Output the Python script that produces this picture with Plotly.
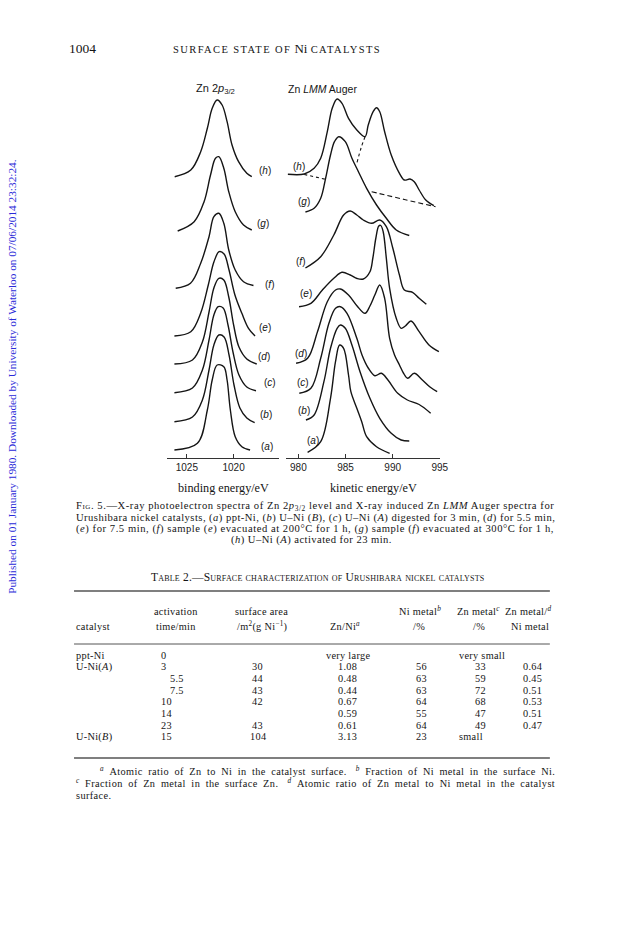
import plotly.graph_objects as go

W, H = 624, 936
INK = "#151515"
SERIF = "Liberation Serif"
SANS = "Liberation Sans, Arial, Helvetica, sans-serif"

# ---------------- data: Zn 2p3/2 XPS (binding energy / eV, intensity a.u.) ----------------
xps_h_E = [1026.30, 1024.58, 1023.52, 1022.81, 1022.29, 1021.76, 1021.23, 1020.70, 1020.17, 1019.47, 1018.59, 1018.06]
xps_h_I = [281.3, 288.0, 306.3, 329.7, 349.7, 358.0, 353.0, 336.3, 313.0, 296.3, 284.7, 281.3]
xps_g_E = [1025.98, 1024.22, 1023.16, 1022.47, 1021.94, 1021.58, 1021.05, 1020.52, 1019.83, 1018.94, 1018.06]
xps_g_I = [227.0, 236.3, 256.3, 283.0, 299.7, 301.3, 289.7, 266.3, 246.3, 233.0, 228.0]
xps_f_E = [1026.19, 1024.61, 1023.52, 1022.63, 1022.11, 1021.58, 1021.05, 1020.52, 1019.83, 1018.94, 1017.88]
xps_f_I = [169.7, 174.7, 194.7, 221.3, 241.3, 244.7, 234.7, 208.0, 188.0, 176.3, 172.5]
xps_e_E = [1026.33, 1024.58, 1023.52, 1022.71, 1022.11, 1021.55, 1021.02, 1020.49, 1019.86, 1019.12, 1018.41, 1017.71]
xps_e_I = [122.0, 126.3, 145.0, 173.0, 196.0, 206.3, 204.0, 188.0, 163.0, 144.7, 129.7, 122.0]
xps_d_E = [1026.33, 1024.40, 1023.34, 1022.63, 1022.11, 1021.58, 1021.05, 1020.52, 1020.00, 1019.43, 1018.59, 1017.53]
xps_d_I = [94.0, 98.0, 116.0, 146.0, 170.0, 179.7, 178.0, 161.0, 133.0, 111.0, 99.0, 94.0]
xps_c_E = [1026.33, 1024.40, 1023.34, 1022.63, 1022.11, 1021.65, 1021.12, 1020.60, 1020.07, 1019.43, 1018.59, 1017.61]
xps_c_I = [65.3, 70.0, 88.0, 118.0, 143.0, 151.3, 150.0, 133.0, 106.0, 83.0, 71.0, 67.3]
xps_b_E = [1026.33, 1024.40, 1023.34, 1022.63, 1022.11, 1021.58, 1021.02, 1020.49, 1019.96, 1019.33, 1018.59, 1017.75]
xps_b_I = [36.3, 41.0, 58.0, 88.0, 113.0, 123.0, 121.0, 103.0, 73.0, 50.0, 40.0, 35.3]
xps_a_E = [1026.33, 1023.87, 1022.81, 1022.29, 1021.76, 1021.05, 1020.70, 1020.35, 1019.83, 1019.12, 1018.24]
xps_a_I = [8.0, 14.7, 48.0, 78.0, 93.0, 91.3, 78.0, 48.0, 21.3, 11.3, 8.0]

# ---------------- data: Zn LMM Auger (kinetic energy / eV, intensity a.u.) ----------------
aug_h_E = [978.89, 980.63, 981.67, 982.37, 983.07, 983.59, 984.11, 984.63, 985.32, 986.20, 987.07, 987.41,
           987.93, 988.29, 988.63, 989.15, 989.85, 990.72, 991.24, 991.84, 992.29, 992.81, 993.51, 994.37]
aug_h_I = [283.7, 284.0, 289.7, 299.7, 326.3, 349.7, 359.0, 354.7, 339.7, 328.0, 321.3, 333.0,
           346.3, 350.3, 346.3, 326.3, 303.0, 284.7, 278.0, 279.0, 276.3, 268.0, 258.0, 252.3]
aug_h_comp_E = [987.07, 986.65, 986.20]          # dotted component
aug_h_comp_I = [321.3, 310.0, 294.7]
aug_h_base_E = [980.63, 982.89]                  # dotted baseline
aug_h_base_I = [283.5, 278.7]
aug_h_tail_E = [987.77, 991.24, 994.55]          # dashed line
aug_h_tail_I = [266.3, 258.5, 251.3]
aug_g_E = [980.75, 981.67, 982.37, 982.89, 983.41, 983.83, 984.28, 984.98, 985.68, 986.37, 987.24, 988.29,
           989.33, 990.38, 991.76]
aug_g_I = [246.0, 249.7, 259.7, 279.7, 303.0, 316.3, 321.3, 316.3, 299.7, 286.3, 269.7, 253.0,
           239.7, 228.0, 222.5]
aug_f_E = [980.75, 982.37, 983.76, 984.80, 985.50, 986.20, 986.89, 987.77, 988.63, 989.33, 990.02, 990.72,
           991.24, 992.11, 992.81, 993.57]
aug_f_I = [190.0, 201.3, 223.0, 243.0, 247.0, 243.0, 238.0, 234.7, 238.0, 231.3, 209.7, 183.0,
           168.0, 165.7, 159.7, 153.7]
aug_e_E = [980.07, 981.33, 982.55, 983.76, 984.63, 985.50, 986.23, 986.89, 987.59, 987.90, 988.22, 988.53,
           988.74, 989.00, 989.33, 989.68, 990.38, 990.90, 991.35, 991.94, 992.81, 993.85, 994.90]
aug_e_I = [151.3, 154.7, 168.0, 179.7, 185.7, 183.0, 179.5, 179.0, 186.3, 200.0, 220.0, 232.0,
           232.5, 226.0, 199.7, 169.7, 139.7, 129.7, 132.0, 137.0, 126.3, 113.0, 106.3]
aug_d_E = [979.76, 980.98, 982.03, 983.07, 983.94, 984.46, 985.32, 986.23, 987.07, 987.59, 988.11, 988.63,
           989.15, 989.68, 990.20, 990.72, 991.14, 991.59, 992.29, 993.15, 993.96, 994.72]
aug_d_I = [94.7, 99.7, 126.3, 156.3, 168.0, 169.0, 163.0, 152.0, 144.7, 152.0, 163.0, 173.0,
           159.7, 119.7, 103.0, 93.0, 85.0, 79.7, 84.7, 78.0, 71.0, 66.3]
aug_c_E = [980.10, 981.33, 982.37, 983.24, 983.94, 984.46, 985.16, 986.20, 986.75, 987.41, 988.11, 988.81,
           989.50, 990.54, 991.56, 992.81, 994.03]
aug_c_I = [64.7, 69.7, 99.7, 134.7, 149.7, 151.3, 144.7, 119.7, 103.0, 90.0, 82.3, 84.7,
           78.0, 64.7, 58.0, 53.5, 44.7]
aug_b_E = [980.80, 981.67, 982.71, 983.41, 984.11, 984.46, 984.98, 985.68, 986.54, 987.59, 988.63, 989.85,
           990.90, 991.76]
aug_b_I = [38.0, 43.0, 76.3, 109.7, 129.7, 133.0, 129.7, 113.0, 86.3, 59.7, 39.7, 24.7, 18.0, 17.0]
aug_a_E = [980.98, 982.37, 983.41, 983.94, 984.38, 984.80, 985.32, 985.57, 986.20, 986.72, 987.24, 988.29, 989.68]
aug_a_I = [5.7, 16.3, 59.7, 96.3, 113.0, 109.7, 83.0, 66.3, 49.7, 36.3, 21.3, 11.3, 4.7]

curve_letters = ["h", "g", "f", "e", "d", "c", "b", "a"]
xps_ticks = [1025, 1020]
aug_ticks = [980, 985, 990, 995]

# ---------------- table data ----------------
tab_catalyst = ["ppt-Ni", "U-Ni(<i>A</i>)", "", "", "", "", "", "U-Ni(<i>B</i>)"]
tab_time = ["0", "3", "5.5", "7.5", "10", "14", "23", "15"]
tab_area = ["", "30", "44", "43", "42", "", "43", "104"]
tab_znni = ["very large", "1.08", "0.48", "0.44", "0.67", "0.59", "0.61", "3.13"]
tab_nimetal = ["", "56", "63", "63", "64", "55", "64", "23"]
tab_znmetal = ["very small", "33", "59", "72", "68", "47", "49", "small"]
tab_ratio = ["", "0.64", "0.45", "0.51", "0.53", "0.51", "0.47", ""]


def PX(x):
    return x / W


def PY(y):
    return 1 - y / H


fig = go.Figure()


def curve(E, I, ax, dash="solid", width=1.4):
    fig.add_trace(go.Scatter(
        x=E, y=I, xaxis=ax[0], yaxis=ax[1], mode="lines",
        line=dict(color=INK, width=width, dash=dash, shape="spline", smoothing=1.0),
        hoverinfo="skip", showlegend=False))


L = ("x", "y")
R = ("x2", "y2")
for E, I in [(xps_h_E, xps_h_I), (xps_g_E, xps_g_I), (xps_f_E, xps_f_I), (xps_e_E, xps_e_I),
             (xps_d_E, xps_d_I), (xps_c_E, xps_c_I), (xps_b_E, xps_b_I), (xps_a_E, xps_a_I)]:
    curve(E, I, L)
for E, I in [(aug_h_E, aug_h_I), (aug_g_E, aug_g_I), (aug_f_E, aug_f_I), (aug_e_E, aug_e_I),
             (aug_d_E, aug_d_I), (aug_c_E, aug_c_I), (aug_b_E, aug_b_I), (aug_a_E, aug_a_I)]:
    curve(E, I, R)
curve(aug_h_comp_E, aug_h_comp_I, R, dash="dot", width=1.1)
curve(aug_h_base_E, aug_h_base_I, R, dash="dot", width=1.1)
curve(aug_h_tail_E, aug_h_tail_I, R, dash="5px,3px", width=1.1)

ydom = [PY(458), PY(78)]
axis_common = dict(showline=True, linecolor="#333", linewidth=1, ticks="inside", ticklen=4,
                   tickcolor="#333", tickwidth=1, showgrid=False, zeroline=False,
                   tickfont=dict(family=SANS, size=10, color="#222"))
fig.update_layout(
    width=W, height=H, margin=dict(l=0, r=0, t=0, b=0),
    paper_bgcolor="white", plot_bgcolor="rgba(0,0,0,0)",
    xaxis=dict(domain=[PX(169), PX(283)], range=[1027.14, 1015.11], tickvals=xps_ticks,
               anchor="y", **axis_common),
    xaxis2=dict(domain=[PX(290), PX(446)], range=[978.72, 995.05], tickvals=aug_ticks,
                anchor="y2", **axis_common),
    yaxis=dict(domain=ydom, range=[0, 380], visible=False, anchor="x"),
    yaxis2=dict(domain=ydom, range=[0, 380], visible=False, anchor="x2"),
)

ann = []


def text(x, y, s, size=10.3, family=SERIF, anchor="center", color=INK, angle=0, ls=None):
    if ls:
        s = "<span style='letter-spacing:%spx'>%s</span>" % (ls, s)
    ann.append(dict(x=PX(x), y=PY(y), xref="paper", yref="paper", text=s, showarrow=False,
                    xanchor=anchor, yanchor="middle", textangle=angle,
                    font=dict(family=family, size=size, color=color)))


HEAD = "<span style='font-size:10.5px;letter-spacing:1.4px'>%s</span>"
SC = "<span style='font-variant:small-caps'>%s</span>"
NB = "\u00a0"
TS = "\u2009"

# running head
text(68, 48, "1004", size=13.5, anchor="left")
text(281, 48, HEAD % "SURFACE STATE OF" + " Ni " + HEAD % "CATALYSTS", size=13)

# side stamp
text(12, 376, "Published on 01 January 1980. Downloaded by University of Waterloo on 07/06/2014 23:32:24.",
     size=11.3, color="#2a2ad8", angle=-90)

# panel titles
text(218, 89, "Zn 2<i>p</i><sub>3/2</sub>", size=11, family=SANS)
text(290, 89, "Zn <i>LMM</i> Auger", size=10.5, family=SANS, anchor="left")

# curve labels
xps_lab = [(260, 170), (258, 223), (266, 284), (260, 327), (259, 356), (265, 382), (261, 414), (262, 446)]
aug_lab = [(295, 166), (300, 201), (298, 261), (302, 293), (297, 353), (299, 382), (300, 410), (309, 440)]
for k, ch in enumerate(curve_letters):
    text(xps_lab[k][0], xps_lab[k][1], "(<i>%s</i>)" % ch, size=10, family=SANS, anchor="left")
    text(aug_lab[k][0], aug_lab[k][1], "(<i>%s</i>)" % ch, size=10, family=SANS, anchor="left")

# axis titles
text(226, 488, "binding energy/eV", size=12.2)
text(378, 488, "kinetic energy/eV", size=12.2)

# caption
cap = [
    SC % "Fig" + ". 5.—X-ray photoelectron spectra of Zn 2<i>p</i><sub>3/2</sub> level and X-ray induced Zn <i>LMM</i> Auger spectra for",
    "Urushibara nickel catalysts, (<i>a</i>) ppt-Ni, (<i>b</i>) U–Ni (<i>B</i>), (<i>c</i>) U–Ni (<i>A</i>) digested for 3 min, (<i>d</i>) for 5.5 min,",
    "(<i>e</i>) for 7.5 min, (<i>f</i>) sample (<i>e</i>) evacuated at 200°C for 1 h, (<i>g</i>) sample (<i>f</i>) evacuated at 300°C for 1 h,",
]
cap_ls = [0.55, 0.45, 0.55]
for k, s in enumerate(cap):
    text(75, 507 + 11 * k, s, size=10.6, anchor="left", ls=cap_ls[k])
text(316, 540, "(<i>h</i>) U–Ni (<i>A</i>) activated for 23 min.", size=10.6, ls=0.45)

# table title
text(322, 577, SC % "Table 2.—Surface characterization of Urushibara nickel catalysts", size=11.5, ls=0.2)

# table rules
shapes = []
for y, w in [(591, 1.6), (644, 1.0), (758, 1.6)]:
    shapes.append(dict(type="line", xref="paper", yref="paper", x0=PX(75), x1=PX(557),
                       y0=PY(y), y1=PY(y), line=dict(color="#555", width=w)))

TL = 0.3
# table header
text(178, 611, "activation", ls=TL)
text(265, 611, "surface area", ls=TL)
text(425, 611, "Ni metal<sup><i>b</i></sup>", ls=TL)
text(485, 611, "Zn metal<sup><i>c</i></sup>", ls=TL)
text(535, 611, "Zn metal/<sup><i>d</i></sup>", ls=TL)
text(75, 626, "catalyst", anchor="left", ls=TL)
text(178, 626, "time/min", ls=TL)
text(265, 626, "/m<sup>2</sup>(g Ni<sup>−1</sup>)", ls=TL)
text(349, 626, "Zn/Ni<sup><i>a</i></sup>", ls=TL)
text(424, 626, "/%", ls=TL)
text(485, 626, "/%", ls=TL)
text(537, 626, "Ni metal", ls=TL)

# table body
for r in range(8):
    y = 655 + 11.7 * r
    if tab_catalyst[r]:
        text(75, y, tab_catalyst[r], anchor="left", ls=TL)
    t = tab_time[r]
    text(170 if "." in t else 161, y, t, anchor="left", ls=TL)
    if tab_area[r]:
        text(261, y, tab_area[r], ls=TL)
    z = tab_znni[r]
    if z[0].isdigit():
        text(352, y, z, ls=TL)
    else:
        text(328, y, z, anchor="left", ls=TL)
    if tab_nimetal[r]:
        text(427, y, tab_nimetal[r], ls=TL)
    z = tab_znmetal[r]
    if z[0].isdigit():
        text(487, y, z, ls=TL)
    else:
        text(463, y, z, anchor="left", ls=TL)
    if tab_ratio[r]:
        text(539, y, tab_ratio[r], ls=TL)

# footnotes (spacing widened to imitate the justified setting)
fn1 = ("<sup><i>a</i></sup> Atomic ratio of Zn to Ni in the catalyst surface." + NB * 3 +
       "<sup><i>b</i></sup> Fraction of Ni metal in the surface Ni.")
fn2 = ("<sup><i>c</i></sup> Fraction of Zn metal in the surface Zn." + NB * 3 +
       "<sup><i>d</i></sup> Atomic ratio of Zn metal to Ni metal in the catalyst")
text(99, 771, fn1.replace(" ", " " + TS), size=10.3, anchor="left", ls=0.4)
text(75, 783, fn2.replace(" ", " " + TS), size=10.3, anchor="left", ls=0.42)
text(75, 795, "surface.", size=10.3, anchor="left", ls=0.4)

fig.update_layout(annotations=ann, shapes=shapes)
fig.write_html("out.html", config={"displayModeBar": False},
               post_script="document.body.style.margin='0px';document.body.style.overflow='hidden';")
